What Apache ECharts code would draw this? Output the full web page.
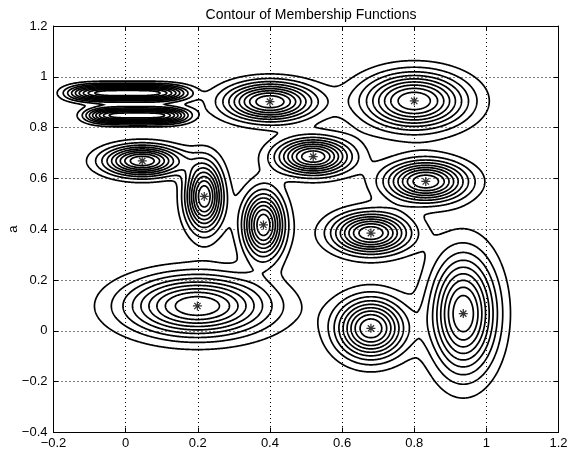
<!DOCTYPE html>
<html>
<head>
<meta charset="utf-8">
<script src="https://cdn.jsdelivr.net/npm/echarts@6/dist/echarts.min.js"></script>
<style>
html, body { margin: 0; padding: 0; background: #fff; }
#chart { width: 574px; height: 460px; }
</style>
</head>
<body>
<div id="chart"></div>
<script>
// centres of the membership functions (the * marks)
var centerX = [0.046, 0.218, 0.382, 0.199, 0.680, 0.936, 0.680, 0.400, 0.800, 0.520, 0.832, 0.005, 0.031];
var centerY = [0.669, 0.529, 0.417, 0.098, 0.010, 0.068, 0.385, 0.902, 0.905, 0.686, 0.588, 0.936, 0.848];
// widths of each function, estimated from the ring sizes
var sigmaX = [0.072, 0.035, 0.039, 0.133, 0.065, 0.061, 0.072, 0.084, 0.097, 0.069, 0.076, 0.133, 0.113];
var sigmaY = [0.040, 0.090, 0.090, 0.080, 0.080, 0.155, 0.054, 0.051, 0.074, 0.048, 0.054, 0.022, 0.021];
// exponent along x (the two flat ones top left have a plateau)
var powerX = [2, 2, 2, 2, 2, 2, 2, 2, 2, 2, 2, 4, 4];
// which centres show a * mark
var starred = [1, 1, 1, 1, 1, 1, 1, 1, 1, 1, 1, 0, 0];
// contour levels
var levels = [0.1, 0.2, 0.3, 0.4, 0.5, 0.6, 0.7, 0.8, 0.9];
// axis ticks
var xTicks = [-0.2, 0, 0.2, 0.4, 0.6, 0.8, 1, 1.2];
var yTicks = [-0.4, -0.2, 0, 0.2, 0.4, 0.6, 0.8, 1, 1.2];

var xMin = xTicks[0], xMax = xTicks[xTicks.length - 1];
var yMin = yTicks[0], yMax = yTicks[yTicks.length - 1];

// sample the membership functions on a fine grid (max with most of the overlap added)
var overlap = 0.85;
var step = 0.002;
var nx = Math.round((xMax - xMin) / step) + 1;
var ny = Math.round((yMax - yMin) / step) + 1;
var sumF = new Float64Array(nx * ny);
var maxF = new Float64Array(nx * ny);
for (var k = 0; k < centerX.length; k++) {
    var ex = new Float64Array(nx), ey = new Float64Array(ny);
    for (var i = 0; i < nx; i++) {
        var dx = Math.abs((xMin + i * step - centerX[k]) / sigmaX[k]);
        ex[i] = Math.exp(-0.5 * Math.pow(dx, powerX[k]));
    }
    for (var j = 0; j < ny; j++) {
        var dy = (yMin + j * step - centerY[k]) / sigmaY[k];
        ey[j] = Math.exp(-0.5 * dy * dy);
    }
    for (var j = 0; j < ny; j++) {
        if (ey[j] < 1e-6) continue;
        var row = j * nx;
        for (var i = 0; i < nx; i++) {
            var v = ex[i] * ey[j];
            sumF[row + i] += v;
            if (v > maxF[row + i]) maxF[row + i] = v;
        }
    }
}
var field = new Float64Array(nx * ny);
for (var c = 0; c < field.length; c++) field[c] = maxF[c] + overlap * (sumF[c] - maxF[c]);

// marching squares -> polylines for one level
function edgePoint(id, L) {
    var cell = id >> 1, i = cell % nx, j = (cell - i) / nx;
    var a = field[cell], b, t;
    if ((id & 1) === 0) {
        b = field[cell + 1];
        t = (L - a) / (b - a);
        return [xMin + (i + t) * step, yMin + j * step];
    }
    b = field[cell + nx];
    t = (L - a) / (b - a);
    return [xMin + i * step, yMin + (j + t) * step];
}

function contour(L) {
    var segA = [], segB = [];
    for (var j = 0; j < ny - 1; j++) {
        for (var i = 0; i < nx - 1; i++) {
            var c = j * nx + i;
            var v00 = field[c], v10 = field[c + 1], v01 = field[c + nx], v11 = field[c + nx + 1];
            var idx = (v00 > L ? 1 : 0) | (v10 > L ? 2 : 0) | (v11 > L ? 4 : 0) | (v01 > L ? 8 : 0);
            if (idx === 0 || idx === 15) continue;
            var e0 = c * 2, e1 = (c + 1) * 2 + 1, e2 = (c + nx) * 2, e3 = c * 2 + 1;
            var mid = (v00 + v10 + v01 + v11) / 4 > L;
            switch (idx) {
                case 1: case 14: segA.push(e3); segB.push(e0); break;
                case 2: case 13: segA.push(e0); segB.push(e1); break;
                case 3: case 12: segA.push(e3); segB.push(e1); break;
                case 4: case 11: segA.push(e1); segB.push(e2); break;
                case 6: case 9: segA.push(e0); segB.push(e2); break;
                case 7: case 8: segA.push(e3); segB.push(e2); break;
                case 5:
                    if (mid) { segA.push(e0, e2); segB.push(e1, e3); }
                    else { segA.push(e3, e1); segB.push(e0, e2); }
                    break;
                case 10:
                    if (mid) { segA.push(e3, e1); segB.push(e0, e2); }
                    else { segA.push(e0, e2); segB.push(e1, e3); }
                    break;
            }
        }
    }
    var adj = new Map();
    function add(e, s) { var l = adj.get(e); if (l) l.push(s); else adj.set(e, [s]); }
    for (var s = 0; s < segA.length; s++) { add(segA[s], s); add(segB[s], s); }
    var used = new Uint8Array(segA.length);
    function walk(e, out) {
        while (true) {
            var l = adj.get(e), nxt = -1;
            for (var q = 0; q < l.length; q++) if (!used[l[q]]) { nxt = l[q]; break; }
            if (nxt < 0) return;
            used[nxt] = 1;
            e = segA[nxt] === e ? segB[nxt] : segA[nxt];
            out.push(e);
        }
    }
    var paths = [];
    for (var s0 = 0; s0 < segA.length; s0++) {
        if (used[s0]) continue;
        used[s0] = 1;
        var fwd = [segA[s0], segB[s0]];
        walk(segB[s0], fwd);
        var back = [];
        walk(segA[s0], back);
        var ids = back.reverse().concat(fwd);
        paths.push({ coords: ids.map(function (id) { return edgePoint(id, L); }) });
    }
    return paths;
}

var contourPaths = [];
levels.forEach(function (L) { contourPaths = contourPaths.concat(contour(L)); });

var centers = [];
centerX.forEach(function (x, k) { if (starred[k]) centers.push([x, centerY[k]]); });

var asterisk = 'path://M4.3,0L5.7,0L5.7,10L4.3,10Z M0,4.3L10,4.3L10,5.7L0,5.7Z M1,2L2,1L9,8L8,9Z M8,1L9,2L2,9L1,8Z';

function fmt(v) { return String(+v.toFixed(1)).replace('-', '\u2212'); }

var font = 'Liberation Sans';
var labelStyle = { color: '#000', fontSize: 13, fontFamily: font };
var dotted = { show: true, lineStyle: { color: '#000', width: 1, type: [1, 3] } };

var myChart = echarts.init(document.getElementById('chart'));
myChart.setOption({
    animation: false,
    backgroundColor: '#fff',
    title: {
        text: 'Contour of Membership Functions',
        left: 306, top: 3, textAlign: 'center',
        textStyle: { fontSize: 14, fontWeight: 'normal', color: '#000', fontFamily: font }
    },
    grid: {
        left: 53.5, right: 15.5, top: 26, bottom: 27.5, show: false,
        containLabel: false, outerBoundsMode: 'none'
    },
    xAxis: [
        {
            type: 'value', min: xMin, max: xMax, interval: 0.2, position: 'bottom',
            axisLine: { onZero: false, lineStyle: { color: '#000', width: 1 } },
            axisTick: { inside: true, length: 5, lineStyle: { color: '#000' } },
            axisLabel: Object.assign({ margin: 4, formatter: fmt }, labelStyle),
            splitLine: dotted
        },
        {
            type: 'value', min: xMin, max: xMax, interval: 0.2, position: 'top',
            axisLine: { onZero: false, lineStyle: { color: '#000', width: 1 } },
            axisTick: { inside: true, length: 5, lineStyle: { color: '#000' } },
            axisLabel: { show: false }, splitLine: { show: false }
        }
    ],
    yAxis: [
        {
            type: 'value', min: yMin, max: yMax, interval: 0.2, position: 'left',
            name: 'a', nameLocation: 'middle', nameGap: 34, nameMoveOverlap: false,
            nameTextStyle: { color: '#000', fontSize: 13, fontFamily: font },
            axisLine: { onZero: false, lineStyle: { color: '#000', width: 1 } },
            axisTick: { inside: true, length: 5, lineStyle: { color: '#000' } },
            axisLabel: Object.assign({ margin: 6, formatter: fmt }, labelStyle),
            splitLine: dotted
        },
        {
            type: 'value', min: yMin, max: yMax, interval: 0.2, position: 'right',
            axisLine: { onZero: false, lineStyle: { color: '#000', width: 1 } },
            axisTick: { inside: true, length: 5, lineStyle: { color: '#000' } },
            axisLabel: { show: false }, splitLine: { show: false }
        }
    ],
    series: [
        {
            type: 'lines',
            coordinateSystem: 'cartesian2d',
            polyline: true,
            silent: true,
            lineStyle: { color: '#000', width: 1.7, opacity: 1 },
            data: contourPaths,
            z: 2
        },
        {
            type: 'scatter',
            symbol: asterisk,
            symbolSize: 9,
            itemStyle: { color: '#000' },
            silent: true,
            data: centers,
            z: 3
        }
    ]
});
</script>
</body>
</html>
